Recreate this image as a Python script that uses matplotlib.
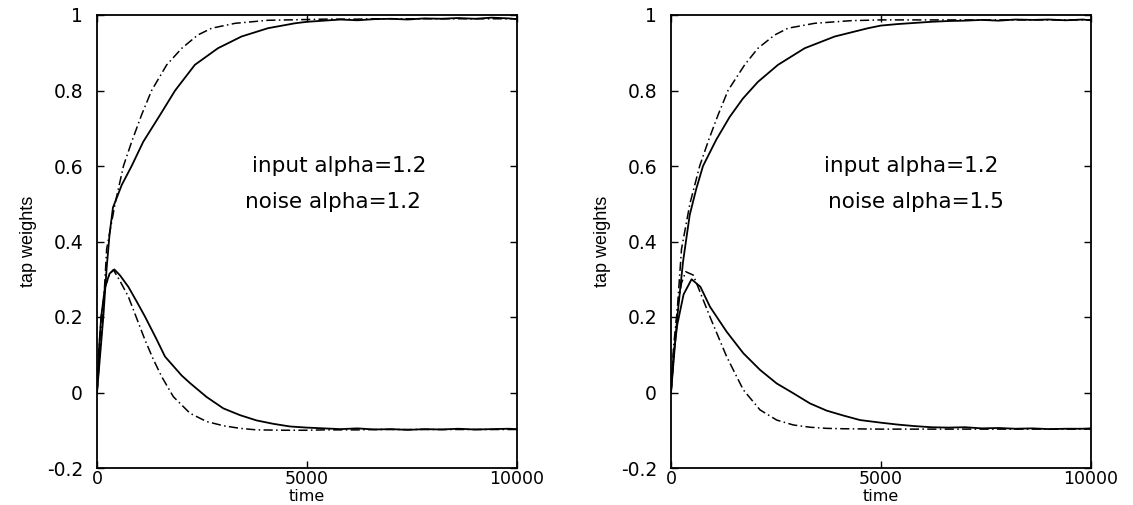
import numpy as np
import matplotlib
matplotlib.use("Agg")
import matplotlib.pyplot as plt

# ---------------- data ----------------
tail_t = [5000, 5400, 5800, 6200, 6600, 7000, 7400, 7800, 8200, 8600, 9000, 9400, 9800, 10000]

# Left panel (input alpha=1.2, noise alpha=1.2)
L_up_solid_t = [0, 75, 150, 230, 300, 380, 590, 825, 1100, 1500, 1860, 2330, 2880,
                3440, 4070, 4710] + tail_t
L_up_solid_w = [0, 0.10, 0.20, 0.33, 0.42, 0.49, 0.55, 0.60, 0.664, 0.735, 0.80, 0.868,
                0.912, 0.943, 0.965, 0.978,
                0.982, 0.985, 0.988, 0.986, 0.989, 0.990, 0.988, 0.991, 0.990, 0.992,
                0.990, 0.993, 0.991, 0.989]
L_up_dash_t = [0, 75, 150, 230, 430, 630, 825, 1060, 1300, 1660, 2020, 2400, 2730,
               3290, 4070] + tail_t
L_up_dash_w = [0, 0.11, 0.22, 0.38, 0.50, 0.60, 0.664, 0.735, 0.80, 0.868, 0.912,
               0.947, 0.965, 0.978, 0.986,
               0.988, 0.989, 0.989, 0.989, 0.990, 0.990, 0.990, 0.990, 0.990, 0.990,
               0.990, 0.990, 0.990, 0.990]
L_lo_solid_t = [0, 50, 100, 190, 300, 413, 550, 746, 950, 1143, 1400, 1620, 2016, 2214,
                2611, 3007, 3405, 3800, 4200, 4595] + tail_t
L_lo_solid_w = [0, 0.12, 0.20, 0.28, 0.315, 0.326, 0.31, 0.28, 0.24, 0.201, 0.145, 0.095,
                0.045, 0.025, -0.012, -0.042, -0.060, -0.074, -0.083, -0.090,
                -0.093, -0.095, -0.097, -0.095, -0.098, -0.097, -0.099, -0.097, -0.098,
                -0.096, -0.098, -0.097, -0.096, -0.097]
L_lo_dash_t = [0, 50, 100, 200, 300, 390, 550, 746, 950, 1143, 1340, 1540, 1817, 2214,
               2611, 3007, 3405, 3800, 4500] + tail_t
L_lo_dash_w = [0, 0.12, 0.20, 0.28, 0.315, 0.325, 0.295, 0.254, 0.195, 0.139, 0.088,
               0.042, -0.011, -0.055, -0.077, -0.088, -0.095, -0.099, -0.100,
               -0.100, -0.099, -0.099, -0.099, -0.098, -0.098, -0.098, -0.098, -0.098,
               -0.098, -0.098, -0.098, -0.098, -0.098]

# Right panel (input alpha=1.2, noise alpha=1.5)
R_up_solid_t = [0, 75, 150, 286, 445, 603, 762, 1079, 1397, 1714, 2071, 2548, 3183,
                3897, 4690] + tail_t
R_up_solid_w = [0, 0.10, 0.20, 0.346, 0.47, 0.54, 0.60, 0.67, 0.73, 0.779, 0.823,
                0.868, 0.912, 0.943, 0.965,
                0.972, 0.976, 0.979, 0.982, 0.984, 0.985, 0.987, 0.985, 0.988, 0.987,
                0.988, 0.986, 0.988, 0.986]
R_up_dash_t = [0, 75, 150, 250, 450, 683, 900, 1120, 1357, 1754, 2071, 2468, 2786,
               3420, 4290] + tail_t
R_up_dash_w = [0, 0.11, 0.22, 0.38, 0.50, 0.60, 0.67, 0.735, 0.80, 0.868, 0.912, 0.947,
               0.965, 0.978, 0.985,
               0.987, 0.987, 0.987, 0.987, 0.987, 0.987, 0.987, 0.987, 0.987, 0.987,
               0.987, 0.987, 0.987, 0.987]
R_lo_solid_t = [0, 60, 150, 300, 490, 700, 929, 1325, 1722, 2119, 2516, 2912, 3310,
                3706, 4103, 4500] + tail_t
R_lo_solid_w = [0, 0.10, 0.18, 0.26, 0.30, 0.28, 0.227, 0.161, 0.104, 0.060, 0.024,
                -0.002, -0.029, -0.048, -0.061, -0.073,
                -0.080, -0.085, -0.089, -0.092, -0.093, -0.092, -0.095, -0.094, -0.096,
                -0.095, -0.097, -0.096, -0.096, -0.095]
R_lo_dash_t = [0, 60, 150, 250, 350, 531, 929, 1325, 1722, 2119, 2516, 2912, 3310,
               3706, 4100] + tail_t
R_lo_dash_w = [0, 0.12, 0.22, 0.29, 0.32, 0.311, 0.20, 0.095, 0.007, -0.046, -0.073,
               -0.086, -0.092, -0.095, -0.096,
               -0.097, -0.097, -0.097, -0.097, -0.097, -0.097, -0.097, -0.097, -0.097,
               -0.097, -0.097, -0.097, -0.097, -0.097]

panels = [
    dict(curves=[(L_up_dash_t, L_up_dash_w, 'd'), (L_lo_dash_t, L_lo_dash_w, 'd'),
                 (L_up_solid_t, L_up_solid_w, 's'), (L_lo_solid_t, L_lo_solid_w, 's')],
         texts=[(3690, 0.60, 'input alpha=1.2'), (3520, 0.505, 'noise alpha=1.2')]),
    dict(curves=[(R_up_dash_t, R_up_dash_w, 'd'), (R_lo_dash_t, R_lo_dash_w, 'd'),
                 (R_up_solid_t, R_up_solid_w, 's'), (R_lo_solid_t, R_lo_solid_w, 's')],
         texts=[(3640, 0.60, 'input alpha=1.2'), (3740, 0.505, 'noise alpha=1.5')]),
]

x_ticks = [0, 5000, 10000]
x_ticklabels = ['0', '5000', '10000']
y_ticks = [-0.2, 0, 0.2, 0.4, 0.6, 0.8, 1.0]
y_ticklabels = ['-0.2', '0', '0.2', '0.4', '0.6', '0.8', '1']

# ---------------- drawing ----------------
W, H = 1133, 505
fig = plt.figure(figsize=(W / 100, H / 100), dpi=100)
lefts = [97, 671]
ax_w, ax_top, ax_bot = 420, 15, 468

for lp, p in zip(lefts, panels):
    ax = fig.add_axes([lp / W, (H - ax_bot) / H, ax_w / W, (ax_bot - ax_top) / H])
    for t, w, kind in p['curves']:
        if kind == 's':
            ax.plot(t, w, color='black', lw=1.3, solid_joinstyle='round')
        else:
            ax.plot(t, w, color='black', lw=1.1, linestyle=(0, (6, 2.2, 1, 2.2)))
    for x, y, s in p['texts']:
        ax.text(x, y, s, fontsize=15.5, family='DejaVu Sans', ha='left', va='center')
    ax.set_xlim(0, 10000)
    ax.set_ylim(-0.2, 1.0)
    ax.set_xticks(x_ticks)
    ax.set_xticklabels(x_ticklabels)
    ax.set_yticks(y_ticks)
    ax.set_yticklabels(y_ticklabels)
    ax.tick_params(direction='in', length=5, width=1.0, top=True, right=True,
                   labelsize=13.5)
    ax.tick_params(axis='x', pad=1.5, labelsize=12.5)
    ax.tick_params(axis='y', pad=10)
    for sp in ax.spines.values():
        sp.set_linewidth(1.3)
    ax.set_xlabel('time', fontsize=11.5, va='baseline')
    ax.xaxis.set_label_coords(0.5, -(501 - ax_bot) / (ax_bot - ax_top))
    ax.set_ylabel('tap weights', fontsize=13, family='Liberation Sans')
    ax.yaxis.set_label_coords(-0.143, 0.5)

fig.savefig('out.png', dpi=100)
